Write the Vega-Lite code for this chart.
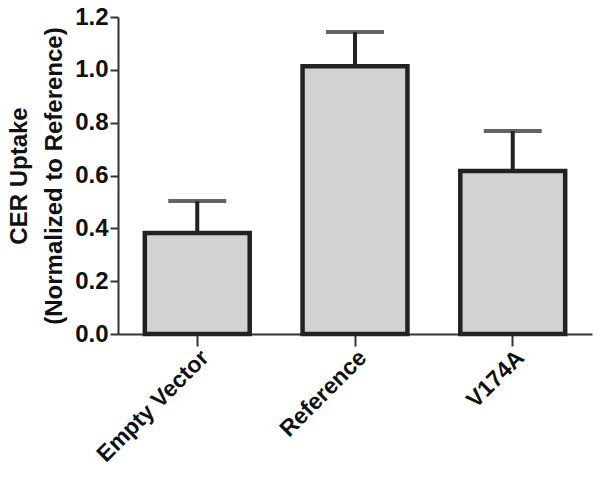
{
  "$schema": "https://vega.github.io/schema/vega-lite/v6.json",
  "width": 474,
  "height": 317,
  "autosize": {"type": "none"},
  "padding": {"left": 118, "top": 17, "right": 8, "bottom": 149},
  "background": "white",
  "config": {
    "view": {"stroke": null},
    "font": "Liberation Sans",
    "axis": {"grid": false, "domainColor": "#333", "domainWidth": 2, "tickColor": "#333", "tickWidth": 2, "labelColor": "#111", "titleColor": "#111", "labelFontWeight": "bold", "titleFontWeight": "bold"}
  },
  "data": {
    "values": [
      {"group": "Empty Vector", "value": 0.382, "upper": 0.503},
      {"group": "Reference", "value": 1.014, "upper": 1.143},
      {"group": "V174A", "value": 0.617, "upper": 0.768}
    ]
  },
  "encoding": {
    "x": {
      "field": "group", "type": "nominal", "sort": null,
      "scale": {"paddingInner": 0.335, "paddingOuter": 0.17},
      "axis": {"title": null, "labelAngle": -45, "labelFontSize": 23, "labelAlign": "right", "labelBaseline": "top", "tickSize": 12, "labelPadding": 0}
    }
  },
  "layer": [
    {
      "mark": {"type": "rule", "color": "#222", "strokeWidth": 4},
      "encoding": {
        "y": {"field": "value", "type": "quantitative"},
        "y2": {"field": "upper"}
      }
    },
    {
      "mark": {"type": "tick", "color": "#222", "thickness": 4, "size": 58, "orient": "horizontal"},
      "encoding": {
        "y": {"field": "upper", "type": "quantitative"}
      }
    },
    {
      "mark": {"type": "bar", "fill": "#d2d2d2", "stroke": "#222", "strokeWidth": 4.5},
      "encoding": {
        "y": {
          "field": "value", "type": "quantitative",
          "scale": {"domain": [0, 1.2], "nice": false},
          "axis": {
            "values": [0, 0.2, 0.4, 0.6, 0.8, 1.0, 1.2],
            "format": ".1f",
            "labelFontSize": 24,
            "tickSize": 8,
            "labelPadding": 2,
            "title": ["CER Uptake", "(Normalized to Reference)"],
            "titleFontSize": 24,
            "titlePadding": 8,
            "titleLineHeight": 35
          }
        }
      }
    }
  ]
}
